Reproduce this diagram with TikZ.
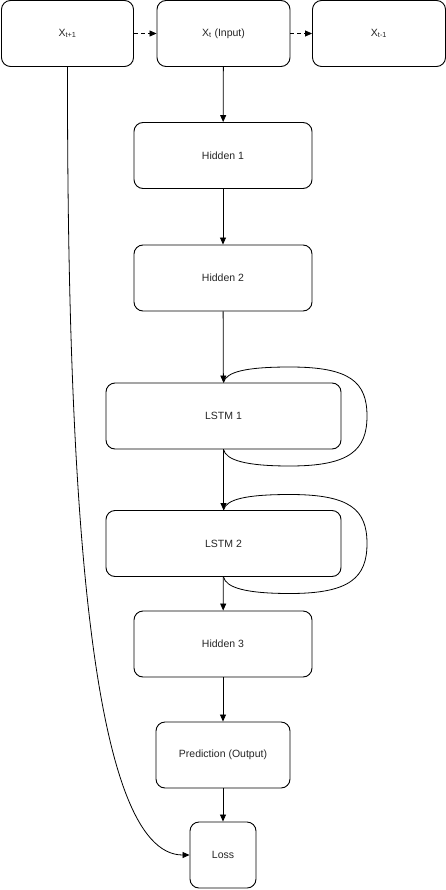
\documentclass[tikz,border=0pt]{standalone}
\usepackage{fontspec}
\setmainfont{Liberation Sans}
\usetikzlibrary{arrows.meta}
\begin{document}
\begin{tikzpicture}[x=1pt,y=-1pt,
  box/.style={draw=black,line width=0.9pt,rounded corners=9pt,fill=white,inner sep=0pt,
    minimum height=66pt,font=\fontsize{10.5}{12}\selectfont,text=black!85},
  conn/.style={line width=0.8pt,-{Triangle[length=7pt,width=6pt]}},
  dconn/.style={conn,dash pattern=on 4pt off 3pt},
  loopline/.style={line width=0.8pt}]
\useasboundingbox (0,0) rectangle (446,890);
\node[box,minimum width=132pt] (xp1) at (67.5,33.5) {X\textsubscript{t+1}};
\node[box,minimum width=133pt] (xt) at (223.5,33.5) {X\textsubscript{t} (Input)};
\node[box,minimum width=133pt] (xm1) at (379,33.5) {X\textsubscript{t-1}};
\node[box,minimum width=178pt] (h1) at (223,155.5) {Hidden 1};
\node[box,minimum width=178pt] (h2) at (223,278) {Hidden 2};
\node[box,minimum width=235pt] (l1) at (223.5,416) {LSTM 1};
\node[box,minimum width=235pt] (l2) at (223.5,543.5) {LSTM 2};
\node[box,minimum width=178pt] (h3) at (223,644) {Hidden 3};
\node[box,minimum width=134pt] (pred) at (223,755) {Prediction (Output)};
\node[box,minimum width=66pt] (loss) at (223,855) {Loss};
\draw[dconn] (xp1) -- (xt);
\draw[dconn] (xt) -- (xm1);
\draw[conn] (xt) -- (h1);
\draw[conn] (h1) -- (h2);
\draw[conn] (h2) -- (l1);
\draw[conn] (l1) -- (l2);
\draw[conn] (l2) -- (h3);
\draw[conn] (h3) -- (pred);
\draw[conn] (pred) -- (loss);
\draw[loopline] (l1.south) .. controls (226,460) and (245,466) .. (290,466)
  .. controls (350,466) and (367,450) .. (367,416)
  .. controls (367,382) and (350,367) .. (290,367)
  .. controls (245,367) and (226,372) .. (l1.north);
\draw[loopline] (l2.south) .. controls (226,587.5) and (245,593.5) .. (290,593.5)
  .. controls (350,593.5) and (367,577.5) .. (367,543.5)
  .. controls (367,509.5) and (350,494.5) .. (290,494.5)
  .. controls (245,494.5) and (226,499.5) .. (l2.north);
\draw[conn] (xp1.south) .. controls (67,500) and (90,855) .. (loss.west);
\end{tikzpicture}
\end{document}
